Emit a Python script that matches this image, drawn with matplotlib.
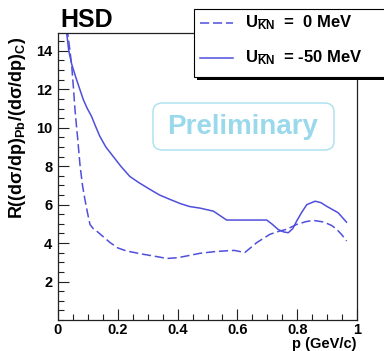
import numpy as np
import matplotlib
matplotlib.use('Agg')
from matplotlib import pyplot as plt
from matplotlib.patches import FancyBboxPatch, Rectangle
from matplotlib.lines import Line2D
from matplotlib.ticker import MultipleLocator

plt.rcParams['font.family'] = ['Liberation Sans', 'DejaVu Sans']
plt.rcParams['font.weight'] = 'bold'
plt.rcParams['mathtext.fontset'] = 'custom'
plt.rcParams['mathtext.rm'] = 'Liberation Sans:bold'
plt.rcParams['mathtext.bf'] = 'Liberation Sans:bold'
plt.rcParams['mathtext.it'] = 'Liberation Sans:bold'
plt.rcParams['mathtext.sf'] = 'Liberation Sans:bold'

# U_KN = 0 MeV (dashed)
p_u0 = [0.030, 0.040, 0.046, 0.052, 0.057, 0.066, 0.074, 0.082, 0.090, 0.099,
        0.107, 0.118, 0.129, 0.150, 0.174, 0.200, 0.229, 0.285,
        0.330, 0.364, 0.400, 0.43, 0.475, 0.520, 0.553, 0.590, 0.625, 0.665,
        0.709, 0.740, 0.765, 0.798, 0.830, 0.854, 0.888, 0.915, 0.932, 0.950, 0.965]
r_u0 = [15.2, 14.0, 13.2, 12.0, 10.9, 9.4, 8.0, 7.0, 6.27, 5.55,
        4.97, 4.75, 4.63, 4.35, 4.03, 3.75, 3.59, 3.42,
        3.3, 3.2, 3.24, 3.33, 3.47, 3.55, 3.59, 3.62, 3.51, 4.03,
        4.46, 4.62, 4.72, 4.97, 5.12, 5.18, 5.1, 4.92, 4.72, 4.42, 4.11]

# U_KN = -50 MeV (solid)
p_u50 = [0.027, 0.036, 0.046, 0.060, 0.073, 0.085, 0.098, 0.112, 0.125, 0.14,
         0.160, 0.185, 0.210, 0.24, 0.270, 0.308, 0.340, 0.375, 0.410, 0.441,
         0.475, 0.52, 0.540, 0.564, 0.631, 0.698, 0.715, 0.737, 0.755, 0.77,
         0.785, 0.798, 0.815, 0.832, 0.86, 0.880, 0.898, 0.937, 0.965]
r_u50 = [15.2, 14.0, 13.3, 12.6, 12.0, 11.45, 11.0, 10.6, 10.1, 9.55,
         9.0, 8.5, 8.0, 7.47, 7.15, 6.79, 6.5, 6.27, 6.05, 5.9,
         5.82, 5.66, 5.45, 5.2, 5.2, 5.2, 5.0, 4.7, 4.58, 4.54,
         4.75, 5.14, 5.6, 6.0, 6.18, 6.1, 5.92, 5.58, 5.09]

labels = [r'$\mathregular{U_{\overline{K}N}}$  =  0 MeV',
          r'$\mathregular{U_{\overline{K}N}}$  = -50 MeV']

line_color = '#4f4fdc'
W, H = 384, 351


def fx(px):
    return px / W


def fy(py):
    return 1 - py / H


fig = plt.figure(figsize=(3.84, 3.51), dpi=100)
ax = fig.add_axes([fx(58), fy(320), 299 / W, 287 / H])

ax.plot(p_u0, r_u0, color=line_color, lw=1.1, dashes=(6, 2.5))
ax.plot(p_u50, r_u50, color=line_color, lw=1.1)

ax.set_xlim(0, 1)
ax.set_ylim(0, 14.93)
ax.xaxis.set_minor_locator(MultipleLocator(0.05))
ax.yaxis.set_minor_locator(MultipleLocator(0.5))
ax.set_yticks([2, 4, 6, 8, 10, 12, 14])
ax.set_xticks([0, 0.2, 0.4, 0.6, 0.8, 1.0])
ax.set_xticklabels(['0', '0.2', '0.4', '0.6', '0.8', '1'])
ax.tick_params(which='both', direction='in', top=False, right=False,
               labelsize=10.5, width=0.8, color='#222222')
ax.tick_params(which='major', length=8)
ax.tick_params(axis='x', which='major', pad=2)
ax.tick_params(axis='y', which='major', pad=4)
ax.tick_params(which='minor', length=4)
for s in ax.spines.values():
    s.set_linewidth(0.9)
    s.set_color('#222222')

fig.text(fx(357), fy(351), 'p (GeV/c)', fontsize=10.5, fontweight='bold',
         ha='right', va='bottom')
fig.text(fx(18), fy(37),
         r'R((d$\sigma$/dp)$_{\mathregular{Pb}}$/(d$\sigma$/dp)$_{\mathregular{C}}$)',
         fontsize=13, fontweight='bold', rotation=90, ha='center', va='top')

fig.text(fx(60), fy(20), 'HSD', fontsize=18, fontweight='bold',
         va='center', ha='left')

# Preliminary box
box = FancyBboxPatch((fx(153), fy(150)), 181 / W, 47 / H,
                     boxstyle='round,pad=0,rounding_size=0.025',
                     transform=fig.transFigure, fc='white', ec='#a8e0ee', lw=1.0)
fig.add_artist(box)
fig.text(fx(243), fy(127), 'Preliminary', fontsize=20, fontweight='bold',
         color='#9ad8ec', ha='center', va='center')

# legend drawn as a box with shadow, cut at the right edge like the original
fig.add_artist(Rectangle((fx(197), fy(80)), 200 / W, 68 / H, transform=fig.transFigure,
                         fc='black', ec='none'))
fig.add_artist(Rectangle((fx(194), fy(77)), 200 / W, 68 / H, transform=fig.transFigure,
                         fc='white', ec='black', lw=0.8))
row_y = [23, 58]
styles = [dict(dashes=(6, 2.5)), dict()]
for yy, lab, st in zip(row_y, labels, styles):
    fig.add_artist(Line2D([fx(200), fx(233)], [fy(yy), fy(yy)], transform=fig.transFigure,
                          color=line_color, lw=1.1, **st))
    fig.text(fx(245), fy(yy), lab, fontsize=12, fontweight='bold', ha='left', va='center')

fig.savefig('out.png', dpi=100)
